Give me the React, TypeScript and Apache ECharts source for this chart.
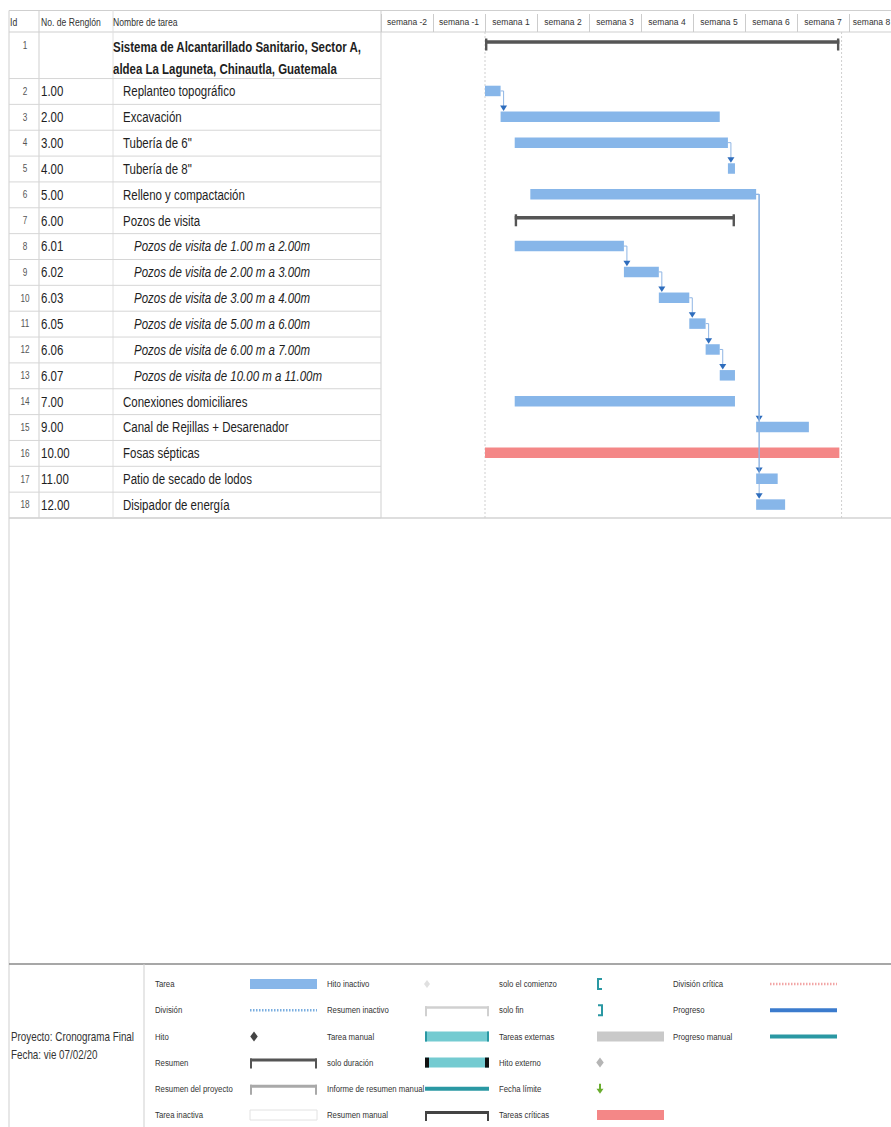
import React, { useEffect, useRef } from "react";
import * as echarts from "echarts";

const FONT = "'Liberation Sans', Arial, sans-serif";
const NARROW = 0.82; // Arial Narrow ≈ 82% of Arial

// ---------- data ----------
const weekLabels = ["semana -2", "semana -1", "semana 1", "semana 2", "semana 3", "semana 4", "semana 5", "semana 6", "semana 7", "semana 8"];
const rowIds = [1, 2, 3, 4, 5, 6, 7, 8, 9, 10, 11, 12, 13, 14, 15, 16, 17, 18];
const rowCodes = ["", "1.00", "2.00", "3.00", "4.00", "5.00", "6.00", "6.01", "6.02", "6.03", "6.05", "6.06", "6.07", "7.00", "9.00", "10.00", "11.00", "12.00"];
const taskNames = [
  "Sistema de Alcantarillado Sanitario, Sector A,\naldea La Laguneta, Chinautla, Guatemala",
  "Replanteo topográfico",
  "Excavación",
  "Tubería de 6\"",
  "Tubería de 8\"",
  "Relleno y compactación",
  "Pozos de visita",
  "Pozos de visita de 1.00 m a 2.00m",
  "Pozos de visita de 2.00 m a 3.00m",
  "Pozos de visita de 3.00 m a 4.00m",
  "Pozos de visita de 5.00 m a 6.00m",
  "Pozos de visita de 6.00 m a 7.00m",
  "Pozos de visita de 10.00 m a 11.00m",
  "Conexiones domiciliares",
  "Canal de Rejillas + Desarenador",
  "Fosas sépticas",
  "Patio de secado de lodos",
  "Disipador de energía",
];
const outlineLevels = [1, 2, 2, 2, 2, 2, 2, 3, 3, 3, 3, 3, 3, 2, 2, 2, 2, 2];
const taskKinds = ["summary", "task", "task", "task", "task", "task", "summary", "task", "task", "task", "task", "task", "task", "task", "task", "critical", "task", "task"];
// days from the start of "semana 1"
const startDays = [0, 0, 2.1, 4.0, 32.7, 6.1, 4.0, 4.0, 18.7, 23.4, 27.5, 29.7, 31.6, 4.0, 36.5, 0, 36.5, 36.5];
const endDays = [47.7, 2.1, 31.6, 32.7, 33.65, 36.5, 33.65, 18.7, 23.4, 27.5, 29.7, 31.6, 33.65, 33.65, 43.6, 47.7, 39.4, 40.4];
// predecessor links [from id, to id]
const linkFrom = [2, 4, 8, 9, 10, 11, 12, 6, 6, 6];
const linkTo = [3, 5, 9, 10, 11, 12, 13, 15, 17, 18];
const projectMarkers = [0, 48];

const legendCol1 = ["Tarea", "División", "Hito", "Resumen", "Resumen del proyecto", "Tarea inactiva"];
const legendCol1Kinds = ["task", "split", "milestone", "summary", "projSummary", "inactiveTask"];
const legendCol2 = ["Hito inactivo", "Resumen inactivo", "Tarea manual", "solo duración", "Informe de resumen manual", "Resumen manual"];
const legendCol2Kinds = ["inactiveMilestone", "inactiveSummary", "manualTask", "durationOnly", "manualRollup", "manualSummary"];
const legendCol3 = ["solo el comienzo", "solo fin", "Tareas externas", "Hito externo", "Fecha límite", "Tareas críticas"];
const legendCol3Kinds = ["startOnly", "finishOnly", "external", "externalMilestone", "deadline", "critical"];
const legendCol4 = ["División crítica", "Progreso", "Progreso manual"];
const legendCol4Kinds = ["criticalSplit", "progress", "manualProgress"];

// ---------- style ----------
const BLUE = "#87b6e9";
const RED = "#f48787";
const SUMMARY = "#555555";
const TEAL = "#74cbd1";
const TEAL_DARK = "#2a98a3";
const GRID_LINE = "#d6d6d6";
const TEXT = "#1e1e1e";

const ROW1_SPAN = 1.8;
const Y_MAX = ROW1_SPAN + rowIds.length - 1;
const rowTop = (i: number) => (i === 0 ? 0 : ROW1_SPAN + (i - 1));
const rowSpan = (i: number) => (i === 0 ? ROW1_SPAN : 1);

const TABLE_RIGHT = 381;

// narrow text element (Arial Narrow look made from Liberation Sans)
function ntext(text: string, x: number, y: number, size: number, extra: any = {}): any {
  return {
    type: "text",
    x,
    y,
    scaleX: NARROW,
    silent: true,
    style: { text, x: 0, y: 0, fontSize: size, fontFamily: FONT, fill: TEXT, verticalAlign: "middle", ...extra },
  };
}

function legendSymbol(kind: string, x0: number, x1: number, y: number): any[] {
  const w = x1 - x0;
  const diamond = (cx: number, r: number, fill: string) => ({
    type: "polygon",
    shape: { points: [[cx, y - r], [cx + r * 0.75, y], [cx, y + r], [cx - r * 0.75, y]] },
    style: { fill },
  });
  const bracket = (color: string, thick: number) => [
    { type: "rect", shape: { x: x0, y: y - 4, width: w, height: thick }, style: { fill: color } },
    { type: "rect", shape: { x: x0, y: y - 4, width: 2, height: 10 }, style: { fill: color } },
    { type: "rect", shape: { x: x1 - 2, y: y - 4, width: 2, height: 10 }, style: { fill: color } },
  ];
  switch (kind) {
    case "task":
      return [{ type: "rect", shape: { x: x0, y: y - 5, width: w, height: 10 }, style: { fill: BLUE } }];
    case "split":
      return [{ type: "line", shape: { x1: x0, y1: y, x2: x1, y2: y }, style: { stroke: "#7aaee0", lineWidth: 2.5, lineDash: [1.5, 1.5] } }];
    case "milestone":
      return [diamond(x0 + 4, 5, "#444")];
    case "summary":
      return bracket(SUMMARY, 3);
    case "projSummary":
      return bracket("#a9a9a9", 3);
    case "inactiveTask":
      return [{ type: "rect", shape: { x: x0, y: y - 5, width: w, height: 10 }, style: { fill: "#fff", stroke: "#e2e2e2", lineWidth: 1 } }];
    case "inactiveMilestone":
      return [diamond(x0 + 2, 4, "#e0e0e0")];
    case "inactiveSummary":
      return bracket("#d0d0d0", 2.5);
    case "manualTask":
      return [
        { type: "rect", shape: { x: x0, y: y - 5, width: w, height: 10 }, style: { fill: TEAL } },
        { type: "rect", shape: { x: x0, y: y - 5, width: 2, height: 10 }, style: { fill: TEAL_DARK } },
        { type: "rect", shape: { x: x1 - 2, y: y - 5, width: 2, height: 10 }, style: { fill: TEAL_DARK } },
      ];
    case "durationOnly":
      return [
        { type: "rect", shape: { x: x0, y: y - 5, width: w, height: 10 }, style: { fill: TEAL } },
        { type: "rect", shape: { x: x0, y: y - 5, width: 4, height: 10 }, style: { fill: "#111" } },
        { type: "rect", shape: { x: x1 - 4, y: y - 5, width: 4, height: 10 }, style: { fill: "#111" } },
      ];
    case "manualRollup":
      return [{ type: "rect", shape: { x: x0, y: y - 2, width: w, height: 4 }, style: { fill: TEAL_DARK } }];
    case "manualSummary":
      return bracket("#444", 3);
    case "startOnly":
      return [{ type: "polyline", shape: { points: [[x0 + 5, y - 5], [x0 + 1, y - 5], [x0 + 1, y + 5], [x0 + 5, y + 5]] }, style: { stroke: TEAL_DARK, lineWidth: 2, fill: null } }];
    case "finishOnly":
      return [{ type: "polyline", shape: { points: [[x0 + 1, y - 5], [x0 + 5, y - 5], [x0 + 5, y + 5], [x0 + 1, y + 5]] }, style: { stroke: TEAL_DARK, lineWidth: 2, fill: null } }];
    case "external":
      return [{ type: "rect", shape: { x: x0, y: y - 5, width: w, height: 10 }, style: { fill: "#c9c9c9" } }];
    case "externalMilestone":
      return [diamond(x0 + 3, 5, "#b5b5b5")];
    case "deadline":
      return [
        { type: "rect", shape: { x: x0 + 2, y: y - 5, width: 2, height: 6 }, style: { fill: "#6aad2f" } },
        { type: "polygon", shape: { points: [[x0 - 0.5, y], [x0 + 6.5, y], [x0 + 3, y + 5]] }, style: { fill: "#6aad2f" } },
      ];
    case "critical":
      return [{ type: "rect", shape: { x: x0, y: y - 5, width: w, height: 10 }, style: { fill: RED } }];
    case "criticalSplit":
      return [{ type: "line", shape: { x1: x0, y1: y, x2: x1, y2: y }, style: { stroke: "#f2a5a5", lineWidth: 2.5, lineDash: [1.5, 1.5] } }];
    case "progress":
      return [{ type: "rect", shape: { x: x0, y: y - 2, width: w, height: 4 }, style: { fill: "#3b7bcd" } }];
    case "manualProgress":
      return [{ type: "rect", shape: { x: x0, y: y - 2, width: w, height: 4 }, style: { fill: TEAL_DARK } }];
  }
  return [];
}

function buildGraphic(): any[] {
  const els: any[] = [];
  const ln = (x1: number, y1: number, x2: number, y2: number, stroke = GRID_LINE, lineWidth = 1) =>
    els.push({ type: "line", silent: true, shape: { x1, y1, x2, y2 }, style: { stroke, lineWidth } });
  // frame
  ln(9, 10.5, 891, 10.5, "#cfcfcf");
  ln(9, 32, 891, 32, "#cfcfcf");
  ln(9, 518, 891, 518, "#bdbdbd");
  ln(9, 10.5, 9, 1127, "#cfcfcf");
  ln(39, 10.5, 39, 518, "#cfcfcf");
  ln(113, 10.5, 113, 518, "#e0e0e0");
  ln(TABLE_RIGHT, 10.5, TABLE_RIGHT, 518, "#cfcfcf");
  ln(9, 964, 891, 964, "#8a8a8a", 1.5);
  ln(144, 964, 144, 1127, "#cfcfcf");
  // header texts
  els.push(ntext("Id", 10, 22, 10.5, { fill: "#333" }));
  els.push(ntext("No. de Renglón", 41, 22, 10.5, { fill: "#333" }));
  els.push(ntext("Nombre de tarea", 113, 22, 10.5, { fill: "#333" }));
  // project info
  els.push(ntext("Proyecto: Cronograma Final", 11, 1037, 12, { fill: "#333" }));
  els.push(ntext("Fecha: vie 07/02/20", 11, 1055, 12, { fill: "#333" }));
  // legend
  const cols = [
    { labels: legendCol1, kinds: legendCol1Kinds, lx: 155, sx0: 250, sx1: 317 },
    { labels: legendCol2, kinds: legendCol2Kinds, lx: 327, sx0: 425, sx1: 489 },
    { labels: legendCol3, kinds: legendCol3Kinds, lx: 499, sx0: 597, sx1: 664 },
    { labels: legendCol4, kinds: legendCol4Kinds, lx: 673, sx0: 770, sx1: 837 },
  ];
  cols.forEach((c) => {
    c.labels.forEach((label, k) => {
      const y = 984 + k * 26.2;
      els.push(ntext(label, c.lx, y, 9.5, { fill: "#333" }));
      legendSymbol(c.kinds[k], c.sx0, c.sx1, y).forEach((s) => els.push({ ...s, silent: true }));
    });
  });
  return els;
}

export default function App() {
  const ref = useRef<HTMLDivElement>(null);
  useEffect(() => {
    if (!ref.current) return;
    document.body.style.margin = "0";
    const chart = echarts.init(ref.current, undefined, { renderer: "svg" });

    const tableData = rowIds.map((_, i) => [-14, i]);
    const barData = rowIds.map((_, i) => [startDays[i], i, endDays[i]]);
    const linkData = linkFrom.map((f, k) => [0, f - 1, linkTo[k] - 1]);
    const markerData = projectMarkers.map((d) => [d, 0]);
    // the last week label sits at the page edge: nudge it inwards so it stays readable
    const weekCategoryData = weekLabels.map((w, k) =>
      k === weekLabels.length - 1 ? { value: w, textStyle: { padding: [0, 7, 0, 0] } } : w
    );

    const option: any = {
      animation: false,
      backgroundColor: "#ffffff",
      grid: { left: TABLE_RIGHT, top: 32, width: 520, height: 486, containLabel: false, outerBoundsMode: "none" },
      xAxis: [
        {
          type: "category",
          data: weekCategoryData,
          position: "top",
          boundaryGap: true,
          axisLine: { show: false },
          axisTick: { show: true, length: 18, interval: 0, lineStyle: { color: "#cccccc" } },
          axisLabel: { interval: 0, fontSize: 8.5, color: "#333", fontFamily: FONT, margin: 6 },
          splitLine: { show: false },
        },
        { type: "value", min: -14, max: 56, show: false },
      ],
      yAxis: { type: "value", inverse: true, min: 0, max: Y_MAX, show: false },
      graphic: buildGraphic(),
      series: [
        {
          type: "custom",
          name: "markers",
          xAxisIndex: 1,
          silent: true,
          data: markerData,
          encode: { x: 0, y: 1 },
          renderItem: (params: any, api: any) => {
            const d = api.value(0);
            const p0 = api.coord([d, 0]);
            const p1 = api.coord([d, Y_MAX]);
            return { type: "line", shape: { x1: p0[0], y1: p0[1], x2: p1[0], y2: p1[1] }, style: { stroke: "#cfcfcf", lineWidth: 1, lineDash: [2, 2] } };
          },
        },
        {
          type: "custom",
          name: "table",
          xAxisIndex: 1,
          silent: true,
          data: tableData,
          encode: { x: 0, y: 1 },
          renderItem: (params: any, api: any) => {
            const i = api.value(1);
            const top = api.coord([0, rowTop(i)])[1];
            const bottom = api.coord([0, rowTop(i) + rowSpan(i)])[1];
            const mid = (top + bottom) / 2;
            const level = outlineLevels[i];
            const nameX = level === 1 ? 113 : level === 2 ? 123 : 134;
            const children: any[] = [
              { type: "line", shape: { x1: 9, y1: bottom, x2: TABLE_RIGHT, y2: bottom }, style: { stroke: GRID_LINE, lineWidth: 1 } },
            ];
            const textY = i === 0 ? top + 14 : mid;
            children.push(ntext(String(rowIds[i]), 25, textY, 10, { align: "center", fill: "#555" }));
            children.push(ntext(rowCodes[i], 41, textY, 14));
            if (i === 0) {
              children.push(ntext(taskNames[i], nameX, top + 4, 14, { verticalAlign: "top", lineHeight: 22, fontWeight: "bold" }));
            } else {
              children.push(ntext(taskNames[i], nameX, mid, 14, { fontStyle: level === 3 ? "italic" : "normal" }));
            }
            return { type: "group", children };
          },
        },
        {
          type: "custom",
          name: "tareas",
          xAxisIndex: 1,
          silent: true,
          data: barData,
          encode: { x: [0, 2], y: 1 },
          renderItem: (params: any, api: any) => {
            const s = api.value(0);
            const i = api.value(1);
            const e = api.value(2);
            const top = api.coord([s, rowTop(i)])[1];
            const bottom = api.coord([s, rowTop(i) + rowSpan(i)])[1];
            const x0 = api.coord([s, 0])[0];
            const x1 = api.coord([e, 0])[0];
            const kind = taskKinds[i];
            if (kind === "summary") {
              const yc = top + 10;
              return {
                type: "group",
                children: [
                  { type: "rect", shape: { x: x0, y: yc - 1.8, width: x1 - x0, height: 3.6 }, style: { fill: SUMMARY } },
                  { type: "rect", shape: { x: x0, y: yc - 3.5, width: 2.4, height: 12 }, style: { fill: SUMMARY } },
                  { type: "rect", shape: { x: x1 - 2.4, y: yc - 3.5, width: 2.4, height: 12 }, style: { fill: SUMMARY } },
                ],
              };
            }
            const yc = (top + bottom) / 2 - 0.5;
            return { type: "rect", shape: { x: x0, y: yc - 5.25, width: x1 - x0, height: 10.5 }, style: { fill: kind === "critical" ? RED : BLUE } };
          },
        },
        {
          type: "custom",
          name: "vinculos",
          xAxisIndex: 1,
          silent: true,
          data: linkData,
          encode: { x: 0, y: 1 },
          renderItem: (params: any, api: any) => {
            const f = api.value(1);
            const t = api.value(2);
            const fTop = api.coord([0, rowTop(f)])[1];
            const fBot = api.coord([0, rowTop(f) + rowSpan(f)])[1];
            const ySrc = (fTop + fBot) / 2 - 0.5;
            const xEnd = api.coord([endDays[f], 0])[0];
            const tTop = api.coord([0, rowTop(t)])[1];
            const tBot = api.coord([0, rowTop(t) + rowSpan(t)])[1];
            const barTop = (tTop + tBot) / 2 - 0.5 - 5.25;
            const xv = xEnd + 3;
            return {
              type: "group",
              children: [
                { type: "polyline", shape: { points: [[xEnd, ySrc], [xv, ySrc], [xv, barTop - 5]] }, style: { stroke: "#8fb5e4", lineWidth: 1, fill: null } },
                { type: "polygon", shape: { points: [[xv - 3.5, barTop - 6], [xv + 3.5, barTop - 6], [xv, barTop - 0.5]] }, style: { fill: "#2e6dbd" } },
              ],
            };
          },
        },
      ],
    };
    chart.setOption(option);
    return () => chart.dispose();
  }, []);
  return <div ref={ref} style={{ position: "absolute", left: 0, top: 0, width: 891, height: 1127, background: "#fff" }} />;
}
